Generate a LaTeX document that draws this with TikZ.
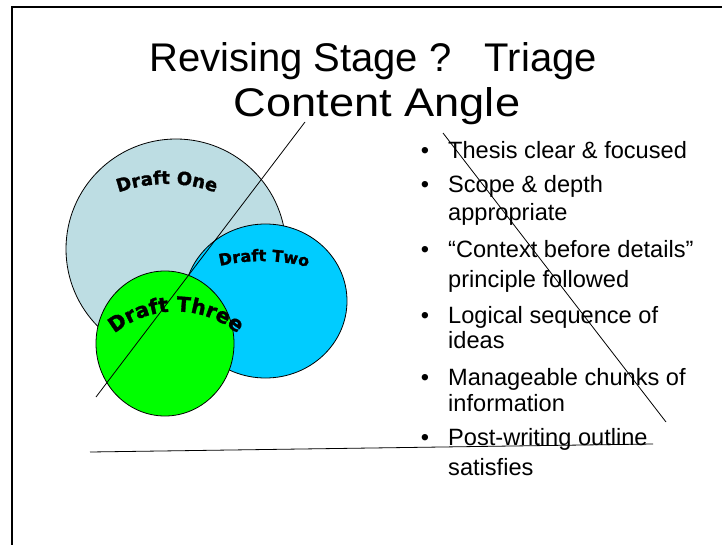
\documentclass[tikz,border=0pt]{standalone}
\usepackage{fontspec}
\setmainfont{Liberation Sans}
\newfontfamily\dfont[FakeBold=1.5]{DejaVu Sans}
\usetikzlibrary{decorations.text,shapes.geometric}
\definecolor{dOne}{RGB}{189,221,227}
\definecolor{dTwo}{RGB}{0,204,255}
\definecolor{dThree}{RGB}{0,255,0}
\begin{document}
\begin{tikzpicture}[x=1pt,y=-1pt,
  frame/.style={draw=black,line width=2pt},
  blob/.style={draw=black,line width=0.8pt,inner sep=0pt},
  titletext/.style={anchor=base,inner sep=0pt,font=\fontsize{40}{44}\selectfont},
  itemtext/.style={anchor=base west,inner sep=0pt,font=\fontsize{23.6}{28}\selectfont},
  bul/.style={anchor=base,inner sep=0pt,font=\fontsize{23.6}{28}\selectfont},
  slash/.style={draw=black,line width=0.8pt}]
\useasboundingbox (0,0) rectangle (722,545);
% frame
\coordinate (fr) at (722,7);
\coordinate (fc) at (12,7);
\coordinate (fb) at (12,545);
\draw[frame] (fr) -- (fc) -- (fb);
% title
\node[titletext] (t1) at (373,72) {Revising Stage ?\ \ \ Triage};
\node[titletext,xscale=1.13] (t2) at (377,117) {Content Angle};
% circles
\node[blob,circle,fill=dOne,minimum size=220pt] (one) at (176,249) {};
\node[blob,ellipse,fill=dTwo,minimum width=163pt,minimum height=154pt] (two) at (265.5,301) {};
\node[blob,ellipse,fill=dThree,minimum width=138pt,minimum height=145pt] (three) at (165,343.5) {};
% arched labels
\path[decorate,decoration={text along path,text align=center,
  text={|\dfont\bfseries\fontsize{18}{18}\selectfont|Draft One}}]
  (117,193) .. controls (150.3,181) and (183.7,181) .. (217,193);
\path[decorate,decoration={text along path,text align=center,
  text={|\dfont\bfseries\fontsize{16}{16}\selectfont|Draft Two}}]
  (220,266) .. controls (249.3,259) and (278.7,259.7) .. (308,267);
\path[decorate,decoration={text along path,text align=center,
  text={|\dfont\bfseries\fontsize{20.5}{20.5}\selectfont|Draft Three}}]
  (114,334) .. controls (150,304) and (202,304) .. (238,334);
% bullets
\node[bul] (b1) at (425,159) {•};
\node[itemtext] (i1) at (448,159) {Thesis clear \& focused};
\node[bul] (b2) at (425,193) {•};
\node[itemtext] (i2a) at (448,193) {Scope \& depth};
\node[itemtext] (i2b) at (448,221) {appropriate};
\node[bul] (b3) at (425,257) {•};
\node[itemtext] (i3a) at (448,257) {“Context before details”};
\node[itemtext] (i3b) at (448,287) {principle followed};
\node[bul] (b4) at (425,323) {•};
\node[itemtext] (i4a) at (448,323) {Logical sequence of};
\node[itemtext] (i4b) at (448,348) {ideas};
\node[bul] (b5) at (425,385) {•};
\node[itemtext] (i5a) at (448,385) {Manageable chunks of};
\node[itemtext] (i5b) at (448,411) {information};
\node[bul] (b6) at (425,445) {•};
\node[itemtext] (i6a) at (448,445) {Post-writing outline};
\node[itemtext] (i6b) at (448,475) {satisfies};
% slash lines
\coordinate (l1a) at (96,397);
\coordinate (l1b) at (305,122);
\coordinate (l2a) at (443,133);
\coordinate (l2b) at (666,422);
\coordinate (l3a) at (90,452);
\coordinate (l3b) at (653,444);
\draw[slash] (l1a) -- (l1b);
\draw[slash] (l2a) -- (l2b);
\draw[slash] (l3a) -- (l3b);
\end{tikzpicture}
\end{document}
